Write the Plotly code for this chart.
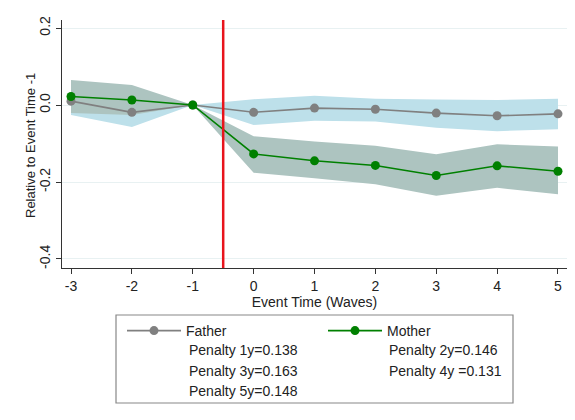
import plotly.graph_objects as go

# ---- data ----
event_time = [-3, -2, -1, 0, 1, 2, 3, 4, 5]
father = [0.010, -0.019, 0.0, -0.019, -0.008, -0.011, -0.021, -0.028, -0.023]
father_lo = [-0.026, -0.057, 0.0, -0.052, -0.041, -0.043, -0.059, -0.068, -0.063]
father_hi = [0.046, 0.019, 0.0, 0.015, 0.024, 0.016, 0.014, 0.013, 0.016]
mother = [0.022, 0.013, 0.0, -0.127, -0.145, -0.157, -0.183, -0.158, -0.172]
mother_lo = [-0.021, -0.026, 0.0, -0.176, -0.190, -0.206, -0.236, -0.215, -0.232]
mother_hi = [0.065, 0.052, 0.0, -0.081, -0.095, -0.106, -0.128, -0.102, -0.108]
x_ticks = [-3, -2, -1, 0, 1, 2, 3, 4, 5]
x_tick_labels = ["-3", "-2", "-1", "0", "1", "2", "3", "4", "5"]
y_ticks = [0.2, 0.0, -0.2, -0.4]
y_tick_labels = ["0.2", "0.0", "-0.2", "-0.4"]
event_line = -0.5
penalty_left = ["Penalty 1y=0.138", "Penalty 3y=0.163", "Penalty 5y=0.148"]
penalty_right = ["Penalty 2y=0.146", "Penalty 4y =0.131"]

FONT = "Liberation Sans, Arial, sans-serif"
FS = 14
W, H = 559, 404
L, R, T, B = 54, 0, 12, 144
PW, PH = W - L - R, H - T - B


def px(x):
    return (x - L) / PW


def py(y):
    return (H - B - y) / PH


fig = go.Figure()

fig.add_trace(go.Scatter(
    x=event_time + event_time[::-1], y=father_hi + father_lo[::-1],
    fill="toself", fillcolor="#bde0ea", line=dict(width=0),
    mode="lines", showlegend=False, hoverinfo="skip"))
fig.add_trace(go.Scatter(
    x=event_time + event_time[::-1], y=mother_hi + mother_lo[::-1],
    fill="toself", fillcolor="#adc4c0", line=dict(width=0),
    mode="lines", showlegend=False, hoverinfo="skip"))
fig.add_trace(go.Scatter(
    x=event_time, y=father, mode="lines+markers", name="Father",
    line=dict(color="#808080", width=1.6),
    marker=dict(color="#808080", size=9)))
fig.add_trace(go.Scatter(
    x=event_time, y=mother, mode="lines+markers", name="Mother",
    line=dict(color="#008000", width=1.6),
    marker=dict(color="#008000", size=9)))

fig.add_vline(x=event_line, line=dict(color="#e8141c", width=2.5))

# legend frame
fig.add_shape(type="rect", xref="paper", yref="paper",
              x0=px(108), x1=px(505), y0=py(307), y1=py(395),
              fillcolor="rgba(0,0,0,0)", line=dict(color="#888888", width=1.2))

rows_y = [342, 363, 383]
for i, t in enumerate(penalty_left):
    fig.add_annotation(text=t, xref="paper", yref="paper", x=px(179), y=py(rows_y[i]),
                       xanchor="left", yanchor="middle", showarrow=False,
                       font=dict(family=FONT, size=FS, color="#222222"))
for i, t in enumerate(penalty_right):
    fig.add_annotation(text=t, xref="paper", yref="paper", x=px(379), y=py(rows_y[i]),
                       xanchor="left", yanchor="middle", showarrow=False,
                       font=dict(family=FONT, size=FS, color="#222222"))

# y-axis title
fig.add_annotation(text="Relative to Event Time -1", xref="paper", yref="paper",
                   x=px(22), y=py(138), xanchor="center", yanchor="middle",
                   textangle=-90, showarrow=False,
                   font=dict(family=FONT, size=13, color="#222222"))

fig.update_layout(
    width=W, height=H,
    margin=dict(l=L, r=R, t=T, b=B),
    paper_bgcolor="white", plot_bgcolor="white",
    font=dict(family=FONT, size=FS, color="#222222"),
    showlegend=True,
    legend=dict(orientation="h", x=px(114), y=py(307), xanchor="left", yanchor="top",
                entrywidth=132, itemwidth=54, bgcolor="rgba(0,0,0,0)",
                font=dict(family=FONT, size=FS, color="#222222")),
    xaxis=dict(range=[-3.148, 5.148], tickvals=x_ticks, ticktext=x_tick_labels,
               ticks="outside", ticklen=5,
               tickcolor="#333333", showline=True, linecolor="#333333", linewidth=1.2,
               showgrid=False, zeroline=False,
               title=dict(text="Event Time (Waves)", standoff=2,
                          font=dict(family=FONT, size=FS)),
               tickfont=dict(family=FONT, size=FS)),
    yaxis=dict(range=[-0.4234, 0.2208], tickvals=y_ticks, ticktext=y_tick_labels,
               tickangle=-90, ticks="outside", ticklen=5, tickcolor="#333333",
               showline=True, linecolor="#333333", linewidth=1.2,
               showgrid=True, gridcolor="#e8f1f2", gridwidth=1, zeroline=False,
               tickfont=dict(family=FONT, size=FS)),
)

fig.write_html("out.html")
